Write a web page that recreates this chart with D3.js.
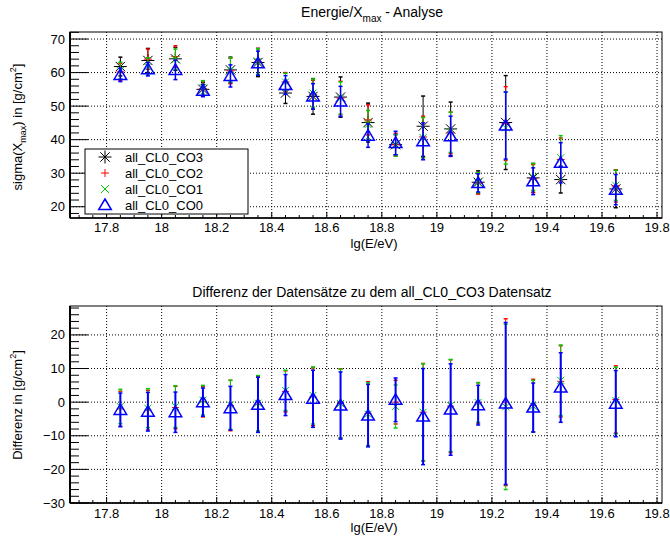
<!DOCTYPE html>
<html>
<head>
<meta charset="utf-8">
<script src="https://cdn.jsdelivr.net/npm/d3@7"></script>
<style>
  body { margin: 0; background: #fff; }
  text { font-family: "Liberation Sans", Arial, sans-serif; }
</style>
</head>
<body>
<svg width="670" height="539"></svg>
<script>
// energy bins (lg(E/eV))
const energy = [17.85, 17.95, 18.05, 18.15, 18.25, 18.35, 18.45, 18.55, 18.65, 18.75, 18.85, 18.95, 19.05, 19.15, 19.25, 19.35, 19.45, 19.65];

// sigma(Xmax) per data set
const co3 = [61.8, 63.6, 64.1, 55.0, 60.8, 63.0, 53.9, 52.9, 52.7, 45.1, 38.5, 44.0, 43.2, 27.3, 45.1, 28.6, 28.1, 25.3];
const co3Err = [2.8, 3.6, 3.4, 2.0, 3.8, 4.2, 3.1, 5.3, 6.0, 5.8, 3.0, 9.0, 8.0, 3.4, 14.0, 4.3, 4.0, 5.6];
const co2 = [60.2, 64.0, 64.8, 55.2, 60.5, 63.2, 57.2, 53.4, 52.4, 45.9, 38.5, 40.8, 42.0, 27.0, 44.8, 28.4, 34.1, 26.2];
const co2Err = [2.6, 3.0, 3.2, 2.2, 3.8, 4.0, 2.8, 4.3, 5.0, 4.5, 3.4, 6.2, 6.2, 3.2, 11.0, 4.2, 6.4, 4.8];
const co1 = [60.6, 61.8, 64.0, 55.6, 60.8, 63.3, 57.2, 53.9, 52.4, 44.5, 38.3, 40.6, 42.2, 27.2, 43.5, 28.9, 34.6, 26.4];
const co1Err = [2.5, 2.6, 3.0, 2.0, 3.6, 3.8, 2.6, 4.2, 4.8, 4.2, 3.2, 6.0, 6.0, 3.0, 10.8, 4.0, 6.6, 4.5];
const co0 = [59.3, 61.0, 60.8, 54.6, 59.0, 62.8, 56.3, 52.9, 51.4, 41.2, 39.0, 39.5, 41.0, 27.1, 44.2, 27.6, 33.1, 25.1];
const co0Err = [2.0, 2.0, 2.9, 1.8, 3.3, 3.6, 2.8, 3.8, 4.5, 3.5, 3.5, 5.5, 6.0, 2.7, 10.0, 4.0, 6.0, 4.5];

// differences to all_CL0_CO3
const d2 = [-2.0, -2.4, -1.6, 0.1, -1.0, -0.6, 3.2, 1.6, -0.4, -3.4, 0.0, -3.0, -1.2, -0.2, 0.0, -1.0, 6.2, 0.8];
const d2Err = [5.2, 5.9, 6.3, 4.5, 7.5, 8.3, 6.1, 8.6, 10.3, 9.5, 6.5, 14.5, 13.8, 6.0, 24.8, 7.8, 10.6, 10.0];
const d1 = [-1.3, -1.8, -1.3, 0.6, -0.8, -0.3, 3.5, 2.0, -0.4, -3.6, -1.3, -3.0, -1.0, -0.1, -1.4, -1.2, 6.5, 0.5];
const d1Err = [5.1, 5.8, 6.2, 4.4, 7.3, 8.2, 6.0, 8.5, 10.2, 9.4, 6.4, 14.4, 13.7, 5.9, 24.6, 7.7, 10.5, 9.9];
const d0 = [-2.3, -2.85, -3.0, 0.0, -1.8, -0.8, 2.1, 1.0, -1.0, -4.0, 0.7, -4.3, -2.2, -0.9, -0.4, -1.6, 4.35, -0.45];
const d0Err = [5.0, 5.75, 6.0, 4.2, 6.5, 8.2, 6.1, 8.5, 10.0, 9.3, 6.5, 14.3, 13.6, 5.9, 24.1, 7.3, 10.35, 9.85];

const xTicks = [17.8, 18, 18.2, 18.4, 18.6, 18.8, 19, 19.2, 19.4, 19.6, 19.8];
const topTicks = [20, 30, 40, 50, 60, 70];
const botTicks = [-30, -20, -10, 0, 10, 20];
const legendNames = ['all_CL0_CO3', 'all_CL0_CO2', 'all_CL0_CO1', 'all_CL0_CO0'];

const svg = d3.select('svg');
const L = 70, R = 662;

const x = d3.scaleLinear().domain([17.667, 19.818]).range([L, R]);
const yTop = d3.scaleLinear().domain([16.64, 72.1]).range([218, 32]);
const yBot = d3.scaleLinear().domain([-30, 28.6]).range([503, 306]);

// marker paths
const markers = {
  star: s => `M${-s},0H${s}M0,${-s}V${s}M${-s*0.72},${-s*0.72}L${s*0.72},${s*0.72}M${-s*0.72},${s*0.72}L${s*0.72},${-s*0.72}`,
  plus: s => `M${-s},0H${s}M0,${-s}V${s}`,
  cross: s => `M${-s},${-s}L${s},${s}M${-s},${s}L${s},${-s}`,
  tri: s => `M0,${-s}L${s*1.05},${s*0.75}L${-s*1.05},${s*0.75}Z`
};

function frame(y, ticks, minorStep, xLabelY, xTitleY) {
  const g = svg.append('g');
  const [y1, y0] = y.range();
  const dom = y.domain();
  // grid
  xTicks.forEach(t => {
    g.append('line').attr('x1', x(t)).attr('x2', x(t)).attr('y1', y0).attr('y2', y1)
      .attr('stroke', '#000').attr('stroke-dasharray', '1,2');
  });
  ticks.forEach(t => {
    g.append('line').attr('x1', L).attr('x2', R).attr('y1', y(t)).attr('y2', y(t))
      .attr('stroke', '#000').attr('stroke-dasharray', '1,2');
  });
  g.append('rect').attr('x', L).attr('y', y0).attr('width', R - L).attr('height', y1 - y0)
    .attr('fill', 'none').attr('stroke', '#000');
  // y ticks
  for (let v = Math.ceil(dom[0] / minorStep) * minorStep; v <= dom[1] + 1e-9; v += minorStep) {
    const major = ticks.some(t => Math.abs(t - v) < 1e-6);
    g.append('line').attr('x1', L).attr('x2', L + (major ? 18 : 9))
      .attr('y1', y(v)).attr('y2', y(v)).attr('stroke', '#000');
  }
  ticks.forEach(t => {
    g.append('text').attr('x', L - 5).attr('y', y(t)).attr('dy', '0.35em')
      .attr('text-anchor', 'end').attr('font-size', 13).text(t < 0 ? '\u2212' + (-t) : t);
  });
  // x ticks
  for (let v = 17.7; v <= 19.8 + 1e-9; v += 0.05) {
    const major = xTicks.some(t => Math.abs(t - v) < 1e-6);
    g.append('line').attr('x1', x(v)).attr('x2', x(v)).attr('y1', y1).attr('y2', y1 - (major ? 6 : 3))
      .attr('stroke', '#000');
  }
  xTicks.forEach(t => {
    g.append('text').attr('x', x(t)).attr('y', xLabelY).attr('text-anchor', 'middle')
      .attr('font-size', 13).text(t);
  });
  g.append('line').attr('x1', L).attr('x2', L).attr('y1', y0).attr('y2', y1)
    .attr('stroke', '#000').attr('stroke-width', 2);
  g.append('line').attr('x1', L).attr('x2', R).attr('y1', y1).attr('y2', y1)
    .attr('stroke', '#000').attr('stroke-width', 1.5);
  g.append('text').attr('x', 374).attr('y', xTitleY).attr('text-anchor', 'middle')
    .attr('font-size', 13).text('lg(E/eV)');
}

function series(y, vals, errs, color, marker, size, width, cap) {
  const g = svg.append('g');
  const pts = energy.map((e, i) => ({ e, v: vals[i], err: errs[i] }));
  g.selectAll('line.bar').data(pts).enter().append('line')
    .attr('x1', d => x(d.e)).attr('x2', d => x(d.e))
    .attr('y1', d => y(d.v - d.err)).attr('y2', d => y(d.v + d.err))
    .attr('stroke', color).attr('stroke-width', width);
  [-1, 1].forEach(sgn => {
    g.selectAll(null).data(pts).enter().append('line')
      .attr('x1', d => x(d.e) - cap).attr('x2', d => x(d.e) + cap)
      .attr('y1', d => y(d.v + sgn * d.err)).attr('y2', d => y(d.v + sgn * d.err))
      .attr('stroke', color).attr('stroke-width', 1.5);
  });
  g.selectAll('path').data(pts).enter().append('path')
    .attr('transform', d => `translate(${x(d.e)},${y(d.v)})`)
    .attr('d', markers[marker](size))
    .attr('fill', 'none').attr('stroke', color).attr('stroke-width', marker === 'tri' ? 1.5 : 1);
}

// titles
const t1 = svg.append('text').attr('x', 372).attr('y', 17).attr('text-anchor', 'middle').attr('font-size', 14);
t1.append('tspan').text('Energie/X');
t1.append('tspan').attr('font-size', 10).attr('dy', 5).text('max');
t1.append('tspan').attr('dy', -5).text(' - Analyse');

svg.append('text').attr('x', 372).attr('y', 297).attr('text-anchor', 'middle').attr('font-size', 14)
  .text('Differenz der Datens\u00e4tze zu dem all_CL0_CO3 Datensatz');

const ya = svg.append('text').attr('transform', 'translate(22,127) rotate(-90)')
  .attr('text-anchor', 'middle').attr('font-size', 13);
ya.append('tspan').text('sigma(X');
ya.append('tspan').attr('font-size', 9).attr('dy', 4).text('max');
ya.append('tspan').attr('dy', -4).text(') in [g/cm');
ya.append('tspan').attr('font-size', 9).attr('dy', -6).text('2');
ya.append('tspan').attr('dy', 6).text(']');

const yb = svg.append('text').attr('transform', 'translate(22,405) rotate(-90)')
  .attr('text-anchor', 'middle').attr('font-size', 13);
yb.append('tspan').text('Differenz in [g/cm');
yb.append('tspan').attr('font-size', 9).attr('dy', -6).text('2');
yb.append('tspan').attr('dy', 6).text(']');

frame(yTop, topTicks, 2, 232, 248);
frame(yBot, botTicks, 2, 518, 532);

series(yTop, co3, co3Err, '#000', 'star', 6.5, 1, 2);
series(yTop, co2, co2Err, '#f00', 'plus', 4, 1, 2);
series(yTop, co1, co1Err, '#0c0', 'cross', 3.5, 1, 2);
series(yTop, co0, co0Err, '#00f', 'tri', 6, 1.5, 2);

series(yBot, d2, d2Err, '#f00', 'plus', 3.5, 1, 2);
series(yBot, d1, d1Err, '#0c0', 'cross', 3.5, 1, 2);
series(yBot, d0, d0Err, '#00f', 'tri', 6, 2, 2);

// legend
const lg = svg.append('g');
lg.append('rect').attr('x', 85).attr('y', 149).attr('width', 163).attr('height', 65)
  .attr('fill', '#fff').attr('stroke', '#000');
const legColors = ['#000', '#f00', '#0c0', '#00f'];
const legMarks = [['star', 6.5], ['plus', 4], ['cross', 4], ['tri', 6]];
legendNames.forEach((n, i) => {
  const yy = 157 + i * 16;
  lg.append('path').attr('transform', `translate(105,${yy})`).attr('d', markers[legMarks[i][0]](legMarks[i][1]))
    .attr('fill', 'none').attr('stroke', legColors[i]).attr('stroke-width', legMarks[i][0] === 'tri' ? 1.5 : 1);
  lg.append('text').attr('x', 125).attr('y', yy).attr('dy', '0.35em').attr('font-size', 13).text(n);
});
</script>
</body>
</html>
